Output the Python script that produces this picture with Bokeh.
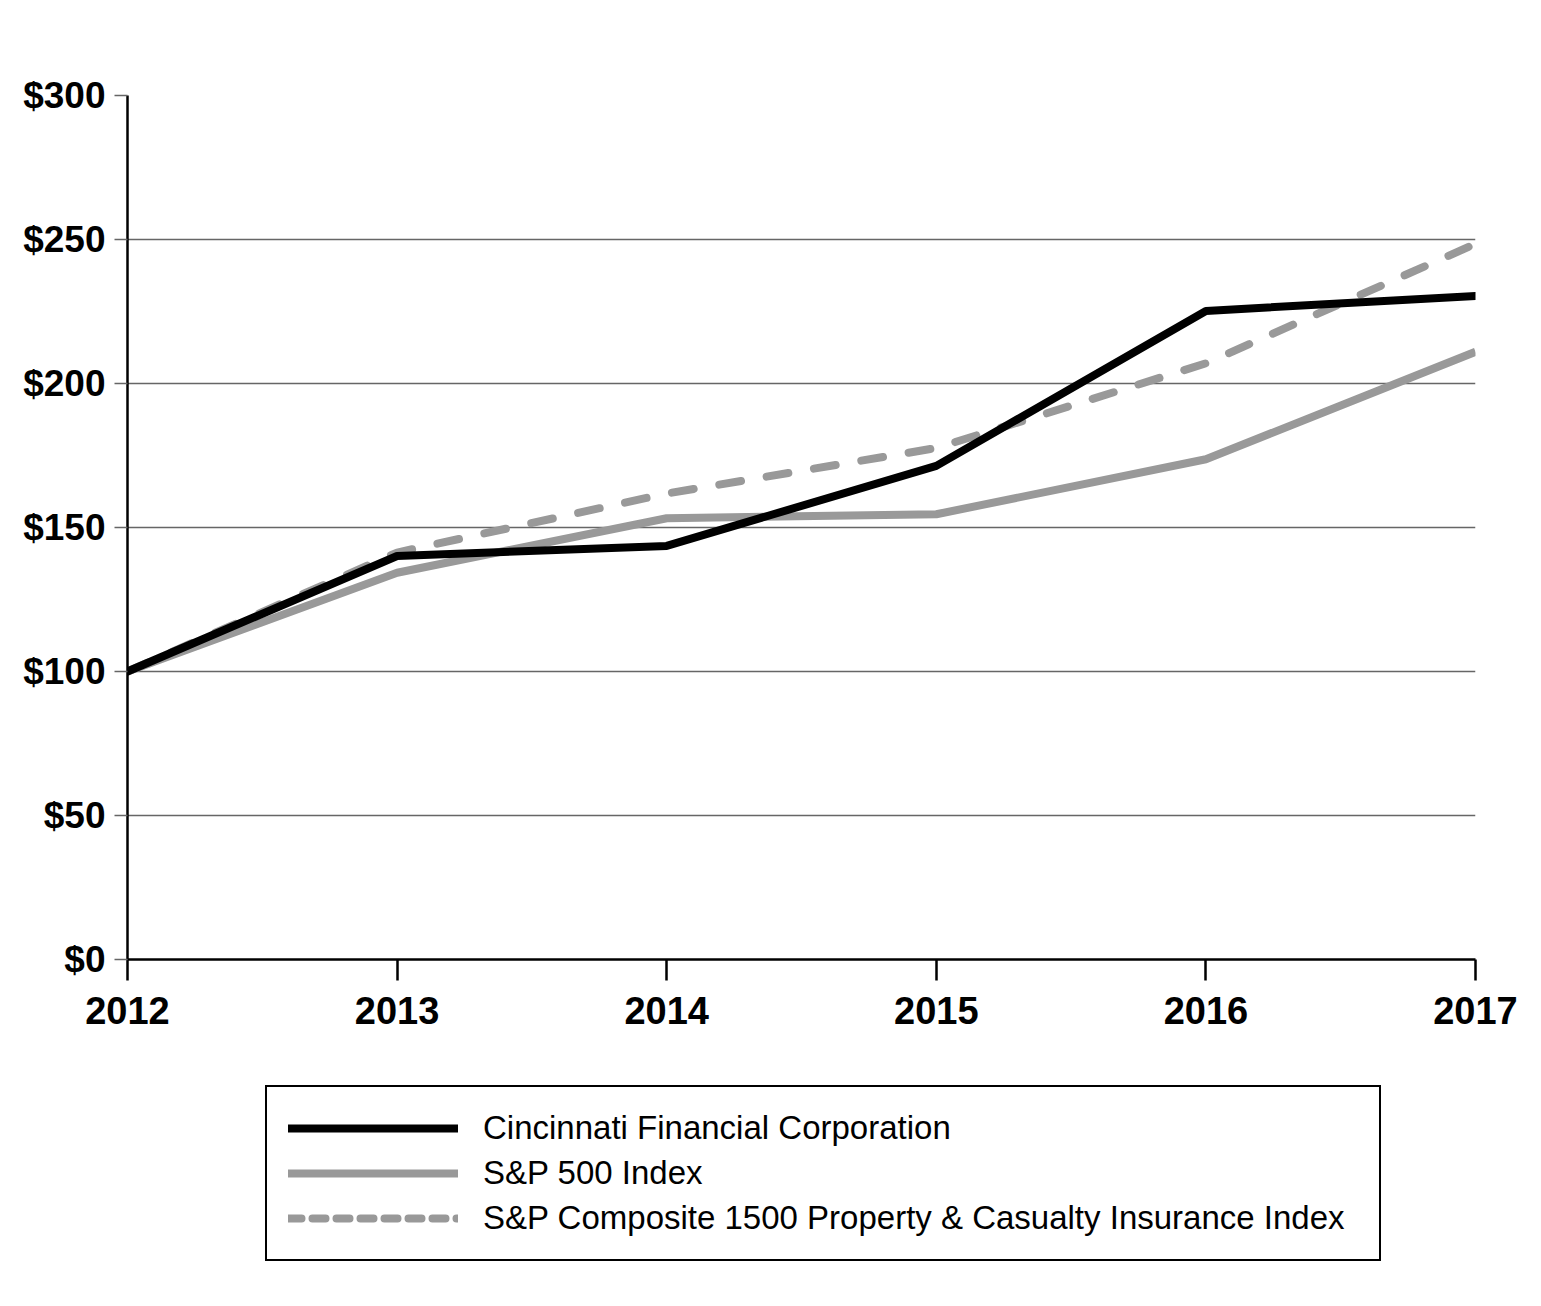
from bokeh.plotting import figure
from bokeh.layouts import column
from bokeh.models import (FixedTicker, NumeralTickFormatter, Legend, LegendItem,
                          Range1d, ColumnDataSource)
from bokeh.embed import file_html
from bokeh.resources import INLINE

years = [2012, 2013, 2014, 2015, 2016, 2017]
cinf = [100, 140.1, 143.6, 171.4, 225.2, 230.4]
sp500 = [100, 134.3, 153.2, 154.6, 173.7, 211.0]
pc_index = [100, 141.3, 161.8, 177.6, 207.0, 248.5]
y_ticks = [0, 50, 100, 150, 200, 250, 300]
series_names = ["Cincinnati Financial Corporation", "S&P 500 Index",
                "S&P Composite 1500 Property & Casualty Insurance Index"]

BLACK = "#000000"
GRAY = "#999999"
FONT = "Liberation Sans"

W = 1525
H1 = 1050
H2 = 250

p = figure(width=W, height=H1, output_backend="svg", toolbar_location=None,
           x_range=Range1d(2012, 2017), y_range=Range1d(0, 300),
           min_border_left=127, min_border_right=W - 1475, min_border_top=95,
           min_border_bottom=H1 - 959)
p.outline_line_color = None
p.background_fill_color = "white"
p.border_fill_color = "white"

p.xgrid.visible = False
p.ygrid.ticker = FixedTicker(ticks=y_ticks)
p.ygrid.grid_line_color = "#666666"
p.ygrid.grid_line_width = 1.5

p.xaxis.ticker = FixedTicker(ticks=years)
p.xaxis.axis_line_color = BLACK
p.xaxis.axis_line_width = 2.5
p.xaxis.major_tick_line_color = BLACK
p.xaxis.major_tick_line_width = 2.5
p.xaxis.major_tick_out = 21
p.xaxis.major_tick_in = 0
p.xaxis.minor_tick_line_color = None
p.xaxis.major_label_standoff = 16
p.xaxis.major_label_text_font = FONT
p.xaxis.major_label_text_font_style = "bold"
p.xaxis.major_label_text_font_size = "38px"
p.xaxis.major_label_text_color = BLACK

p.yaxis.ticker = FixedTicker(ticks=y_ticks)
p.yaxis.formatter = NumeralTickFormatter(format="$0")
p.yaxis.axis_line_color = BLACK
p.yaxis.axis_line_width = 2.5
p.yaxis.major_tick_line_color = "#666666"
p.yaxis.major_tick_line_width = 1.5
p.yaxis.major_tick_out = 13
p.yaxis.major_tick_in = 0
p.yaxis.minor_tick_line_color = None
p.yaxis.major_label_standoff = 9
p.yaxis.major_label_text_font = FONT
p.yaxis.major_label_text_font_style = "bold"
p.yaxis.major_label_text_font_size = "37px"
p.yaxis.major_label_text_color = BLACK

src = ColumnDataSource(dict(x=years, cinf=cinf, sp=sp500, pc=pc_index))

p.line("x", "sp", source=src, line_color=GRAY, line_width=8, line_join="round")
p.line("x", "pc", source=src, line_color=GRAY, line_width=8, line_dash="22 26",
       line_cap="round", line_join="round")
p.line("x", "cinf", source=src, line_color=BLACK, line_width=8, line_join="round",
       line_cap="round")

# legend panel (separate figure below the chart; its frame aligns with the chart's)
q = figure(width=W, height=H2, output_backend="svg", toolbar_location=None,
           x_range=Range1d(0, 1), y_range=Range1d(0, 1),
           x_axis_type=None, y_axis_type=None,
           min_border_left=0, min_border_right=0, min_border_top=0, min_border_bottom=0)
q.outline_line_color = None
q.xgrid.visible = False
q.ygrid.visible = False

# legend-only renderers whose points lie outside the visible range
offscreen = ColumnDataSource(dict(x=[5, 6], y=[5, 6]))
l1 = q.line("x", "y", source=offscreen, line_color=BLACK, line_width=8, line_cap="round")
l2 = q.line("x", "y", source=offscreen, line_color=GRAY, line_width=8, line_cap="round")
l3 = q.line("x", "y", source=offscreen, line_color=GRAY, line_width=8, line_dash="13 11",
            line_cap="round")

legend = Legend(items=[LegendItem(label=series_names[0], renderers=[l1]),
                       LegendItem(label=series_names[1], renderers=[l2]),
                       LegendItem(label=series_names[2], renderers=[l3])],
                location=(138, 39))
legend.border_line_color = BLACK
legend.border_line_alpha = 1
legend.border_line_width = 2
legend.background_fill_color = "white"
legend.background_fill_alpha = 1
legend.label_text_font = FONT
legend.label_text_font_size = "33px"
legend.label_text_color = BLACK
legend.glyph_width = 170
legend.glyph_height = 40
legend.label_height = 40
legend.label_width = 875
legend.label_standoff = 25
legend.padding = 21
legend.spacing = 5
legend.margin = 0
q.add_layout(legend, "center")

layout = column(p, q, spacing=0)
open("out.html", "w").write(file_html(layout, INLINE))
